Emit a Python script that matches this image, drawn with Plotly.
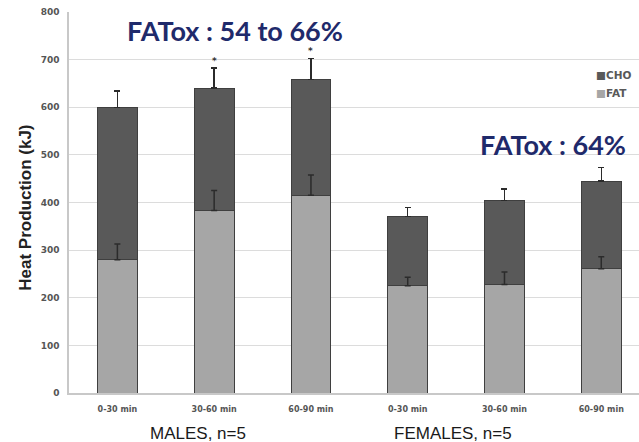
import plotly.graph_objects as go

# Heat production (kJ) by 30-min period, split into fat and carbohydrate oxidation
periods = ["0-30 min", "30-60 min", "60-90 min", "0-30 min ", "30-60 min ", "60-90 min "]
period_labels = ["0-30 min", "30-60 min", "60-90 min", "0-30 min", "30-60 min", "60-90 min"]
fat = [280, 383, 415, 225, 228, 261]
cho = [320, 257, 243, 146, 176, 184]
fat_err = [33, 42, 43, 18, 26, 25]
total_err = [34, 42, 44, 18, 24, 28]
significant = [False, True, True, False, False, False]

CHO_COLOR = "#595959"
FAT_COLOR = "#a6a6a6"
EDGE = "#3f3f3f"
ERR = "#2b2b2b"
NAVY = "#1f2a6b"

W, H = 639, 442
ML, MR, MT, MB = 68.6, 0, 11.7, 49.3
pw = W - ML - MR
ph = H - MT - MB

def px_to_paper_x(px):
    return (px - ML) / pw

def px_to_paper_y(py):
    return (H - MB - py) / ph

def label(px, py, text, font, **kw):
    return dict(x=px_to_paper_x(px), y=px_to_paper_y(py), xref="paper", yref="paper",
                xanchor=kw.pop("xanchor", "center"), yanchor="middle",
                text=text, showarrow=False, font=font, **kw)

fig = go.Figure()
fig.add_trace(go.Bar(
    x=periods, y=fat, name="FAT", marker=dict(color=FAT_COLOR, line=dict(color=EDGE, width=1)),
    width=0.41, showlegend=False,
))
fig.add_trace(go.Bar(
    x=periods, y=cho, name="CHO", marker=dict(color=CHO_COLOR, line=dict(color=EDGE, width=1)),
    width=0.41, showlegend=False,
    error_y=dict(type="data", symmetric=False, array=total_err, arrayminus=[0] * 6,
                 color=ERR, thickness=1.5, width=3),
))
# fat error bars sit on top of the carbohydrate segment
fig.add_trace(go.Scatter(
    x=periods, y=fat, mode="markers", marker=dict(size=1, color="rgba(0,0,0,0)"),
    showlegend=False, hoverinfo="skip",
    error_y=dict(type="data", symmetric=False, array=fat_err, arrayminus=[0] * 6,
                 color=ERR, thickness=1.5, width=3),
))

annotations = []
for p, f, c, e, s in zip(periods, fat, cho, total_err, significant):
    if s:
        annotations.append(dict(x=p, y=f + c + e + 16, xref="x", yref="y", text="<b>*</b>",
                                showarrow=False, xanchor="center", yanchor="middle",
                                font=dict(family="DejaVu Sans", size=9, color="#333333")))

big = dict(family="Lato", size=27, color=NAVY, weight="bold")
group = dict(family="Liberation Sans", size=17, color="#1a1a1a")
legend_font = dict(family="DejaVu Sans", size=10.5, color="#595959", weight="bold")
annotations += [
    label(235, 30, "FATox : 54 to 66%", big),
    label(553, 144, "FATox : 64%", big),
    label(198, 433, "MALES, n=5", group),
    label(453, 433, "FEMALES, n=5", group),
    label(25, 207, "<b>Heat Production (kJ)</b>",
          dict(family="Liberation Sans", size=17, color="#222222"), textangle=-90),
    label(594, 75, f"<span style='color:{CHO_COLOR}'>■</span>CHO", legend_font, xanchor="left"),
    label(594, 93, f"<span style='color:{FAT_COLOR}'>■</span>FAT", legend_font, xanchor="left"),
]

fig.update_layout(
    width=W, height=H, barmode="stack",
    margin=dict(l=ML, r=MR, t=MT, b=MB, pad=0),
    paper_bgcolor="white", plot_bgcolor="white",
    annotations=annotations,
    xaxis=dict(
        range=[-0.5, 5.39], tickmode="array", tickvals=periods, ticktext=period_labels,
        tickfont=dict(family="DejaVu Sans", size=8, color="#555555", weight="bold"),
        showline=True, linecolor="#c8c8c8", linewidth=1.5, showgrid=False, ticks="",
        ticklabelstandoff=8,
    ),
    yaxis=dict(
        range=[0, 800], dtick=100,
        tickfont=dict(family="DejaVu Sans", size=9, color="#555555", weight="bold"),
        showline=True, linecolor="#c8c8c8", linewidth=1.5,
        gridcolor="#dcdcdc", gridwidth=1.2, zeroline=False, ticks="",
        ticklabelstandoff=6,
    ),
)

fig.write_html("out.html")
